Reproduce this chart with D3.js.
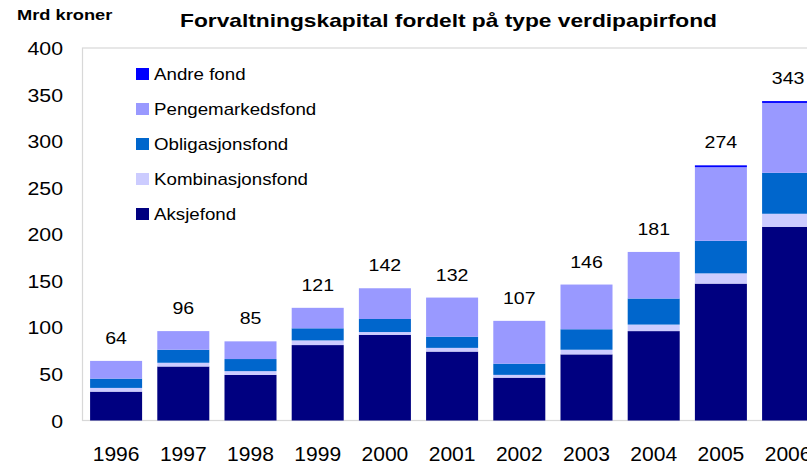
<html>
<head>
<script src="https://d3js.org/d3.v7.min.js"></script>
<style>
  body { margin: 0; background: #fff; }
  text { font-family: Arial, "Liberation Sans", sans-serif; fill: #000; }
</style>
</head>
<body>
<svg width="807" height="464"></svg>
<script>
// data (mrd kroner)
var years = ["1996","1997","1998","1999","2000","2001","2002","2003","2004","2005","2006"];
var aksjefond = [31, 58, 49, 81, 92, 74, 46, 71, 96, 147, 208];
var kombinasjonsfond = [4, 4, 4, 5, 3, 4, 3, 5, 7, 11, 14];
var obligasjonsfond = [10, 14, 13, 13, 14, 12, 12, 22, 28, 35, 44];
var pengemarkedsfond = [19, 20, 19, 22, 33, 42, 46, 48, 50, 79, 75];
var andreFond = [0, 0, 0, 0, 0, 0, 0, 0, 0, 2, 2];
var totals = [64, 96, 85, 121, 142, 132, 107, 146, 181, 274, 343];
var yTicks = [0, 50, 100, 150, 200, 250, 300, 350, 400];

var seriesNames = ["Aksjefond", "Kombinasjonsfond", "Obligasjonsfond", "Pengemarkedsfond", "Andre fond"];
var seriesValues = [aksjefond, kombinasjonsfond, obligasjonsfond, pengemarkedsfond, andreFond];
var colors = ["#000080", "#ccccff", "#0066cc", "#9999ff", "#0000ff"];

var svg = d3.select("svg");

// horizontally stretched text like the original picture
function stext(g, x, y, str, size, sx, anchor, weight) {
  return g.append("text")
    .attr("transform", "translate(" + x + "," + y + ") scale(" + sx + ",1)")
    .attr("text-anchor", anchor || "start")
    .style("font-size", size + "px")
    .style("font-weight", weight || "normal")
    .text(str);
}

var x = d3.scaleBand().domain(years).range([82.5, 821.7]).paddingInner(0.226).paddingOuter(0.113);
var y = d3.scaleLinear().domain([0, 400]).range([420.5, 48]);

// table for stacking
var rows = years.map(function(yr, i) {
  var r = { year: yr };
  seriesNames.forEach(function(n, k) { r[n] = seriesValues[k][i]; });
  return r;
});
var stacked = d3.stack().keys(seriesNames)(rows);

// plot frame
svg.append("rect")
  .attr("x", 82.5).attr("y", y(400))
  .attr("width", 800).attr("height", y(0) - y(400))
  .attr("fill", "none").attr("stroke", "#d8d8d8").attr("stroke-width", 1.2);

// bars
svg.append("g").selectAll("g")
  .data(stacked)
  .enter().append("g")
  .attr("fill", function(d, i) { return colors[i]; })
  .selectAll("rect")
  .data(function(d) { return d; })
  .enter().append("rect")
  .attr("x", function(d) { return x(d.data.year); })
  .attr("y", function(d) { return y(d[1]); })
  .attr("width", x.bandwidth())
  .attr("height", function(d) { return y(d[0]) - y(d[1]); });

// total labels
var lab = svg.append("g");
years.forEach(function(yr, i) {
  stext(lab, x(yr) + x.bandwidth() / 2, y(totals[i]) - 17, totals[i], 17, 1.15, "middle");
});

// y axis labels
var ya = svg.append("g");
yTicks.forEach(function(t) {
  stext(ya, 63, y(t) + 7, t, 19, 1.12, "end");
});

// x axis labels
var xa = svg.append("g");
years.forEach(function(yr) {
  stext(xa, x(yr) + x.bandwidth() / 2, 461, yr, 19.5, 1.08, "middle");
});

// legend
var legOrder = [4, 3, 2, 1, 0];
var lg = svg.append("g");
legOrder.forEach(function(k, j) {
  var cy = 74 + j * 35;
  lg.append("rect").attr("x", 136).attr("y", cy - 6).attr("width", 13).attr("height", 12).attr("fill", colors[k]);
  stext(lg, 154, cy + 6, seriesNames[k], 16, 1.17, "start");
});

// titles
stext(svg, 17, 20, "Mrd kroner", 14.5, 1.26, "start", "bold");
stext(svg, 448.5, 27, "Forvaltningskapital fordelt på type verdipapirfond", 18.5, 1.23, "middle", "bold");
</script>
</body>
</html>
